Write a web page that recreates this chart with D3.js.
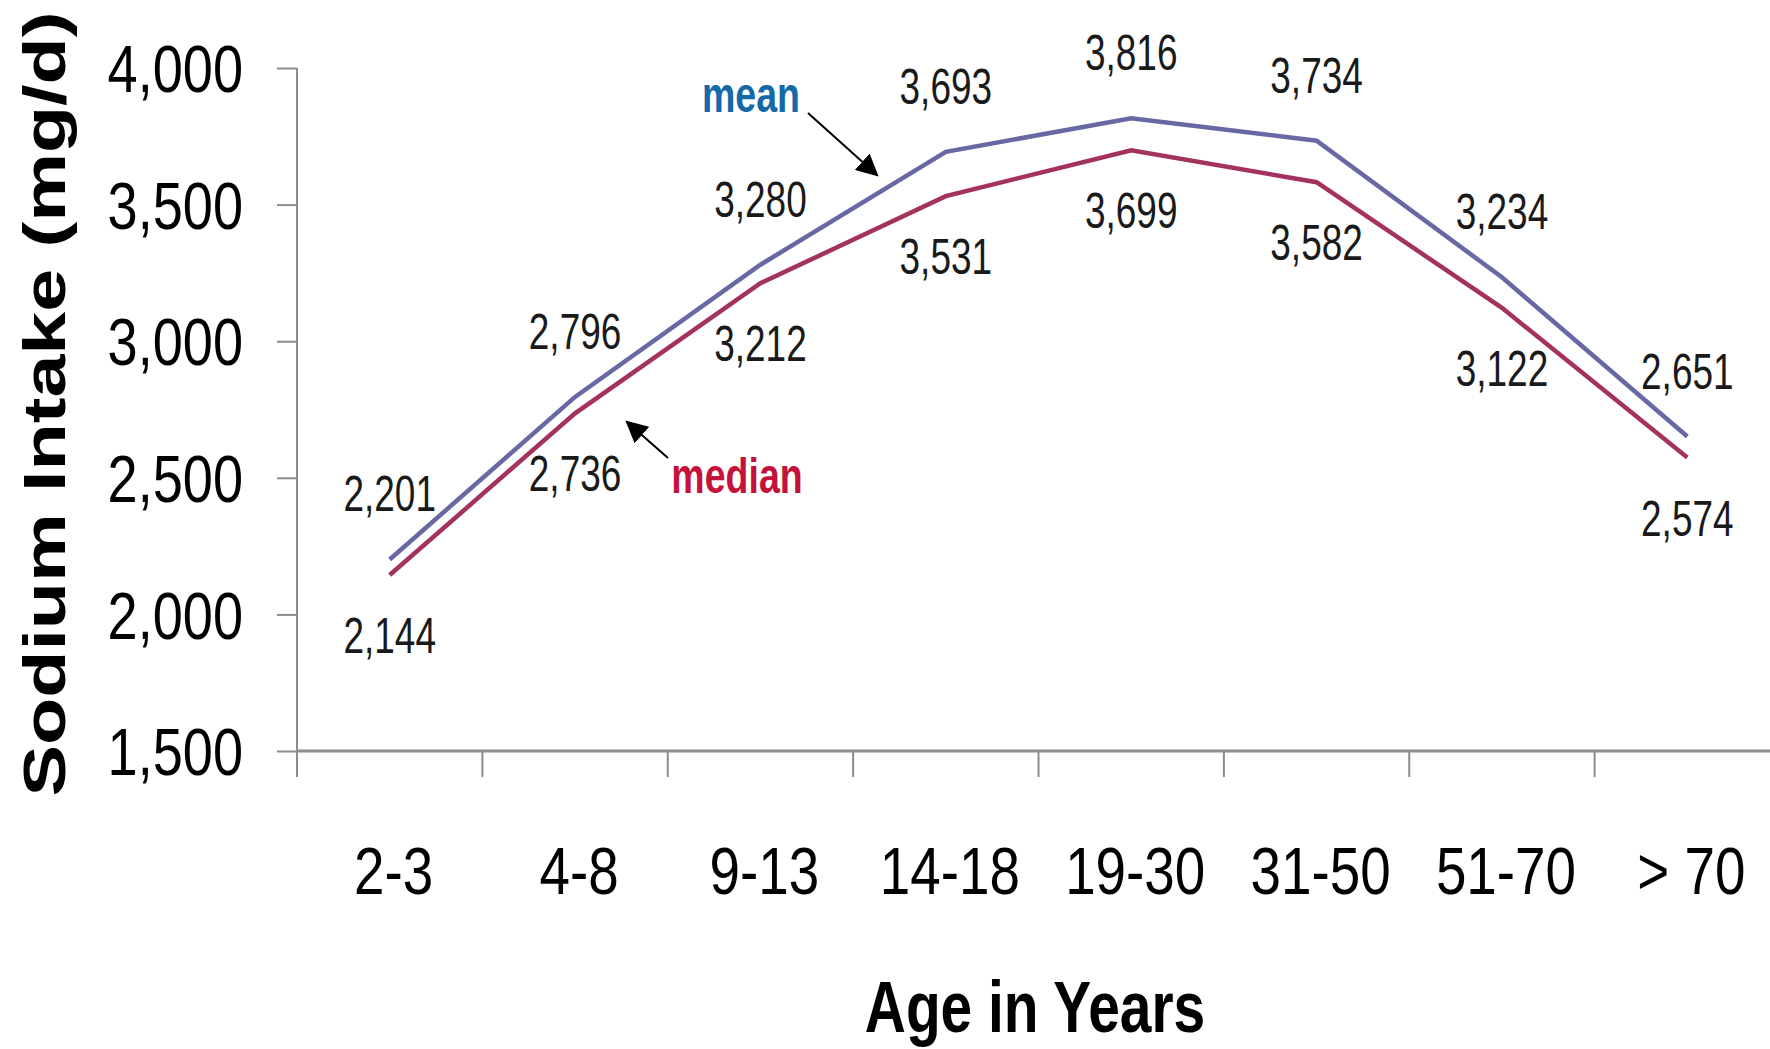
<!DOCTYPE html>
<html>
<head>
<meta charset="utf-8">
<script src="https://cdn.jsdelivr.net/npm/d3@7"></script>
<style>
  html, body { margin: 0; padding: 0; background: #fff; }
  svg { display: block; }
  text { font-family: "Liberation Sans", Arial, sans-serif; }
</style>
</head>
<body>
<svg id="chart" width="1770" height="1049"></svg>
<script>
// Age groups and sodium intake (mg/d)
const ageGroups = ["2-3", "4-8", "9-13", "14-18", "19-30", "31-50", "51-70", "> 70"];
const meanIntake = [2201, 2796, 3280, 3693, 3816, 3734, 3234, 2651];
const medianIntake = [2144, 2736, 3212, 3531, 3699, 3582, 3122, 2574];
const yTickValues = [1500, 2000, 2500, 3000, 3500, 4000];

const svg = d3.select("#chart");
const axisColor = "#8c8c8c";

const x = d3.scaleBand().domain(ageGroups).range([297, 1780]).padding(0);
const y = d3.scaleLinear().domain([1500, 4000]).range([751, 68]);
const cx = d => x(d) + x.bandwidth() / 2;

// Y axis
const yAxis = svg.append("g")
  .attr("transform", "translate(297,0)")
  .call(d3.axisLeft(y).tickValues(yTickValues).tickSize(20).tickSizeOuter(0).tickFormat(d3.format(",")));
yAxis.select(".domain").attr("stroke", axisColor).attr("stroke-width", 2)
  .attr("d", `M0,${y(4000)}V777`);
yAxis.selectAll(".tick line").attr("stroke", axisColor).attr("stroke-width", 2);
yAxis.selectAll(".tick text")
  .attr("x", null).attr("dy", null)
  .attr("font-size", 66).attr("fill", "#000")
  .attr("text-anchor", "end")
  .attr("transform", "translate(-54,23.6) scale(0.82,1)");

// X axis
const xAxis = svg.append("g")
  .attr("transform", "translate(0,751)")
  .call(d3.axisBottom(x).tickSize(0).tickSizeOuter(0));
xAxis.select(".domain").attr("stroke", axisColor).attr("stroke-width", 3)
  .attr("d", "M297,0H1770");
xAxis.selectAll(".tick text")
  .attr("y", null).attr("dy", null)
  .attr("font-size", 66).attr("fill", "#000")
  .attr("text-anchor", "middle")
  .attr("transform", "translate(4,143) scale(0.83,1)");
// category boundary ticks
xAxis.selectAll(".bound")
  .data(ageGroups)
  .join("line")
  .attr("class", "bound")
  .attr("x1", d => x(d)).attr("x2", d => x(d))
  .attr("y1", 0).attr("y2", 26)
  .attr("stroke", axisColor).attr("stroke-width", 2);

// Axis titles
svg.append("text")
  .attr("text-anchor", "middle")
  .attr("font-size", 72).attr("font-weight", "bold")
  .attr("transform", "translate(1035,1032) scale(0.79,1)")
  .text("Age in Years");

svg.append("text")
  .attr("text-anchor", "middle")
  .attr("font-size", 60).attr("font-weight", "bold")
  .attr("transform", "translate(65,404) rotate(-90) scale(1.287,1)")
  .text("Sodium Intake (mg/d)");

// Series lines
const line = d3.line().x((d, i) => cx(ageGroups[i])).y(d => y(d));
svg.append("path").datum(medianIntake)
  .attr("d", line).attr("fill", "none")
  .attr("stroke", "#a3325f").attr("stroke-width", 4.5);
svg.append("path").datum(meanIntake)
  .attr("d", line).attr("fill", "none")
  .attr("stroke", "#6868a4").attr("stroke-width", 4.5);

// Value labels
const fmt = d3.format(",");
svg.append("g").selectAll("text")
  .data(meanIntake)
  .join("text")
  .attr("text-anchor", "middle").attr("font-size", 50).attr("fill", "#1a1a1a")
  .attr("transform", (d, i) => `translate(${cx(ageGroups[i])},${y(d) - 48}) scale(0.74,1)`)
  .text(d => fmt(d));
svg.append("g").selectAll("text")
  .data(medianIntake)
  .join("text")
  .attr("text-anchor", "middle").attr("font-size", 50).attr("fill", "#1a1a1a")
  .attr("transform", (d, i) => `translate(${cx(ageGroups[i])},${y(d) + 78}) scale(0.74,1)`)
  .text(d => fmt(d));

// Series annotations with arrows
const defs = svg.append("defs");
defs.append("marker")
  .attr("id", "arrowhead")
  .attr("viewBox", "0 0 10 10")
  .attr("refX", 9).attr("refY", 5)
  .attr("markerWidth", 22).attr("markerHeight", 22)
  .attr("markerUnits", "userSpaceOnUse")
  .attr("orient", "auto")
  .append("path").attr("d", "M0,0L10,5L0,10Z").attr("fill", "#000");

svg.append("text")
  .attr("text-anchor", "middle").attr("font-size", 50).attr("font-weight", "bold")
  .attr("fill", "#1469a6")
  .attr("transform", "translate(751,112) scale(0.75,1)")
  .text("mean");
svg.append("line")
  .attr("x1", 808).attr("y1", 113).attr("x2", 877).attr("y2", 175)
  .attr("stroke", "#000").attr("stroke-width", 2)
  .attr("marker-end", "url(#arrowhead)");

svg.append("text")
  .attr("text-anchor", "middle").attr("font-size", 50).attr("font-weight", "bold")
  .attr("fill", "#c4123a")
  .attr("transform", "translate(737,493) scale(0.75,1)")
  .text("median");
svg.append("line")
  .attr("x1", 668).attr("y1", 458).attr("x2", 627).attr("y2", 422)
  .attr("stroke", "#000").attr("stroke-width", 2)
  .attr("marker-end", "url(#arrowhead)");
</script>
</body>
</html>
